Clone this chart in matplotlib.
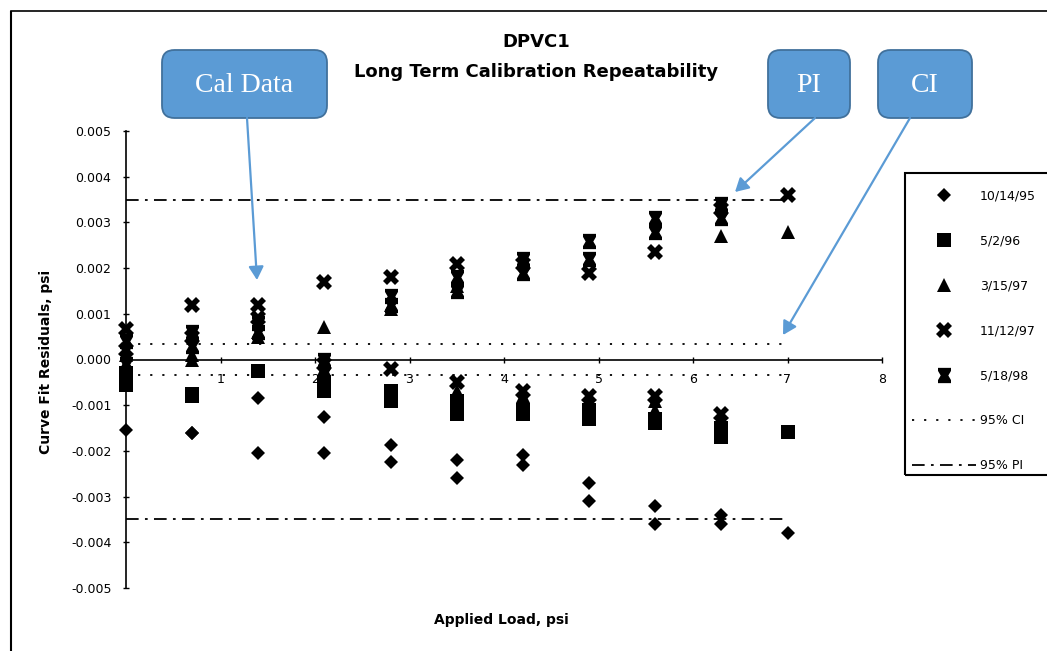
import numpy as np
import matplotlib
matplotlib.use("Agg")
import matplotlib.pyplot as plt
from matplotlib.path import Path
from matplotlib.lines import Line2D
from matplotlib.patches import FancyBboxPatch, Rectangle, FancyArrowPatch

plt.rcParams['font.family'] = ['DejaVu Sans']

# ---------------- data ----------------
loads = [0.0, 0.7, 1.4, 2.1, 2.8, 3.5, 4.2, 4.9, 5.6, 6.3, 7.0]
nan = np.nan

s_101495_a = [-0.00155, -0.0016, -0.00085, -0.00125, -0.00186, -0.0022, -0.0021, -0.0027, -0.0032, -0.0034, -0.0038]
s_101495_b = [-0.0003, -0.0016, -0.00204, -0.00204, -0.00225, -0.0026, -0.0023, -0.0031, -0.0036, -0.0036, nan]

s_050296_a = [-0.00055, -0.0008, -0.00026, -0.0007, -0.0009, -0.0012, -0.0011, -0.0013, -0.0014, -0.0017, -0.00158]
s_050296_b = [-0.0003, -0.00075, -0.00026, -0.0005, -0.0007, -0.0009, -0.0012, -0.0011, -0.0013, -0.0015, nan]

s_031597_a = [0.0001, 0.0001, 0.0005, 0.00072, 0.0011, 0.0016, -0.0008, -0.0009, -0.0009, 0.0027, 0.0028]
s_031597_b = [-0.0001, 0.0, 0.0006, -0.0002, 0.0012, -0.0007, -0.0009, -0.0011, -0.0011, -0.0013, nan]

s_111297_a = [0.00066, 0.0012, 0.0012, 0.0017, 0.0018, 0.00208, 0.0021, 0.0019, 0.00236, 0.0033, 0.0036]
s_111297_b = [0.0002, 0.0005, 0.0009, -0.0001, -0.0002, -0.0005, -0.0007, -0.0008, -0.0008, -0.0012, nan]

s_051898_a = [0.0004, 0.0006, 0.0008, 0.0, 0.0014, 0.0018, 0.0022, 0.0026, 0.0031, 0.0034, nan]
s_051898_b = [-0.0001, 0.0003, 0.0006, -0.0003, 0.0012, 0.0015, 0.0019, 0.0022, 0.0028, 0.0031, nan]

series_labels = ["10/14/95", "5/2/96", "3/15/97", "11/12/97", "5/18/98"]
ci_half = 0.00033
pi_half = 0.0035
band_x = [0.0, 7.0]

x_ticks = [1, 2, 3, 4, 5, 6, 7, 8]
x_ticklabels = ["1", "2", "3", "4", "5", "6", "7", "8"]
y_ticks = [0.005, 0.004, 0.003, 0.002, 0.001, 0.0, -0.001, -0.002, -0.003, -0.004, -0.005]
y_ticklabels = ["0.005", "0.004", "0.003", "0.002", "0.001", "0.000",
                "-0.001", "-0.002", "-0.003", "-0.004", "-0.005"]

title_text = "DPVC1\nLong Term Calibration Repeatability"
xlabel_text = "Applied Load, psi"
ylabel_text = "Curve Fit Residuals, psi"

# ---------------- figure ----------------
W, H = 1047, 651
fig = plt.figure(figsize=(W / 100, H / 100), dpi=100)

def fx(px):
    return px / W

def fy(py):
    return 1 - py / H

ax = fig.add_axes([fx(126), fy(588), fx(882) - fx(126), fy(131) - fy(588)])
ax.set_xlim(0, 8)
ax.set_ylim(-0.005, 0.005)

hour = Path([(-0.85, 1), (0.85, 1), (0.85, 0.6), (0.5, 0), (0.85, -0.6), (0.85, -1),
             (-0.85, -1), (-0.85, -0.6), (-0.5, 0), (-0.85, 0.6), (-0.85, 1)],
            [Path.MOVETO] + [Path.LINETO] * 9 + [Path.CLOSEPOLY])

styles = [dict(marker='D', ms=7.5), dict(marker='s', ms=10), dict(marker='^', ms=10),
          dict(marker='X', ms=11), dict(marker=hour, ms=11)]
groups = [(s_101495_a, s_101495_b), (s_050296_a, s_050296_b), (s_031597_a, s_031597_b),
          (s_111297_a, s_111297_b), (s_051898_a, s_051898_b)]

handles = []
for (ya, yb), st, lab in zip(groups, styles, series_labels):
    h, = ax.plot(loads, ya, linestyle='none', color='black', markeredgewidth=0,
                 zorder=4, label=lab, clip_on=False, **st)
    ax.plot(loads, yb, linestyle='none', color='black', markeredgewidth=0, zorder=4,
            clip_on=False, **st)
    handles.append(h)

ci_style = dict(color='black', lw=1.3, linestyle=(0, (1.2, 5.5)))
pi_style = dict(color='black', lw=1.3, linestyle=(0, (7, 3.5, 1.5, 3.5)))
h_ci, = ax.plot(band_x, [ci_half, ci_half], label="95% CI", **ci_style)
ax.plot(band_x, [-ci_half, -ci_half], **ci_style)
h_pi, = ax.plot(band_x, [pi_half, pi_half], label="95% PI", **pi_style)
ax.plot(band_x, [-pi_half, -pi_half], **pi_style)
handles += [h_ci, h_pi]

for s in ['top', 'right']:
    ax.spines[s].set_visible(False)
ax.spines['bottom'].set_position(('data', 0))
ax.spines['bottom'].set_linewidth(1.2)
ax.spines['left'].set_linewidth(1.2)

ax.set_xticks(x_ticks)
ax.set_xticklabels(x_ticklabels)
ax.set_yticks(y_ticks)
ax.set_yticklabels(y_ticklabels)
ax.tick_params(axis='x', direction='inout', length=4, width=1, labelsize=9, pad=8)
ax.tick_params(axis='y', direction='inout', length=5, width=1, labelsize=9, pad=8)

fig.text(fx(46), fy(362), ylabel_text, rotation=90, ha='center', va='center',
         fontsize=10, fontweight='bold')
fig.text(fx(501), fy(620), xlabel_text, ha='center', va='center',
         fontsize=10, fontweight='bold')
fig.text(fx(536), fy(57), title_text, ha='center', va='center', fontsize=13,
         fontweight='bold', linespacing=1.9)

# legend
leg = ax.legend(handles=handles, loc='upper left', bbox_to_anchor=(fx(908), fy(186)),
                bbox_transform=fig.transFigure, frameon=False, fontsize=9,
                handlelength=5.1, handletextpad=0.35, labelspacing=2.55,
                borderpad=0.3, borderaxespad=0)
fig.add_artist(Rectangle((fx(905), fy(475)), fx(1070) - fx(905), fy(173) - fy(475),
                         transform=fig.transFigure, fill=False, edgecolor='black', lw=1.5))

# outer scan border
fig.add_artist(Line2D([fx(11), fx(11)], [fy(12), fy(651)], color='black', lw=1.5,
                      transform=fig.transFigure))
fig.add_artist(Line2D([fx(11), fx(1047)], [fy(11), fy(11)], color='black', lw=1.2,
                      transform=fig.transFigure))

# callouts
blue = '#5B9BD5'
edge = '#41719C'
callouts = [("Cal Data", 162, 327, (247, 118), (257, 280)),
            ("PI", 768, 850, (815, 118), (735, 192)),
            ("CI", 878, 972, (910, 118), (783, 335))]
for text, x0, x1, start, end in callouts:
    box = FancyBboxPatch((fx(x0), fy(118)), fx(x1) - fx(x0), fy(50) - fy(118),
                         boxstyle="round,pad=0,rounding_size=0.012",
                         transform=fig.transFigure, facecolor=blue, edgecolor=edge, lw=1.3,
                         mutation_aspect=W / H)
    fig.add_artist(box)
    fig.text(fx((x0 + x1) / 2), fy(85), text, ha='center', va='center', color='white',
             fontsize=20, family=['Liberation Serif', 'DejaVu Serif'])
    fig.add_artist(FancyArrowPatch(
        (fx(start[0]), fy(start[1])), (fx(end[0]), fy(end[1])),
        transform=fig.transFigure, arrowstyle='-|>,head_length=8,head_width=4.5',
        color=blue, lw=1.6, shrinkA=0, shrinkB=0))

fig.savefig("out.png", dpi=100)
